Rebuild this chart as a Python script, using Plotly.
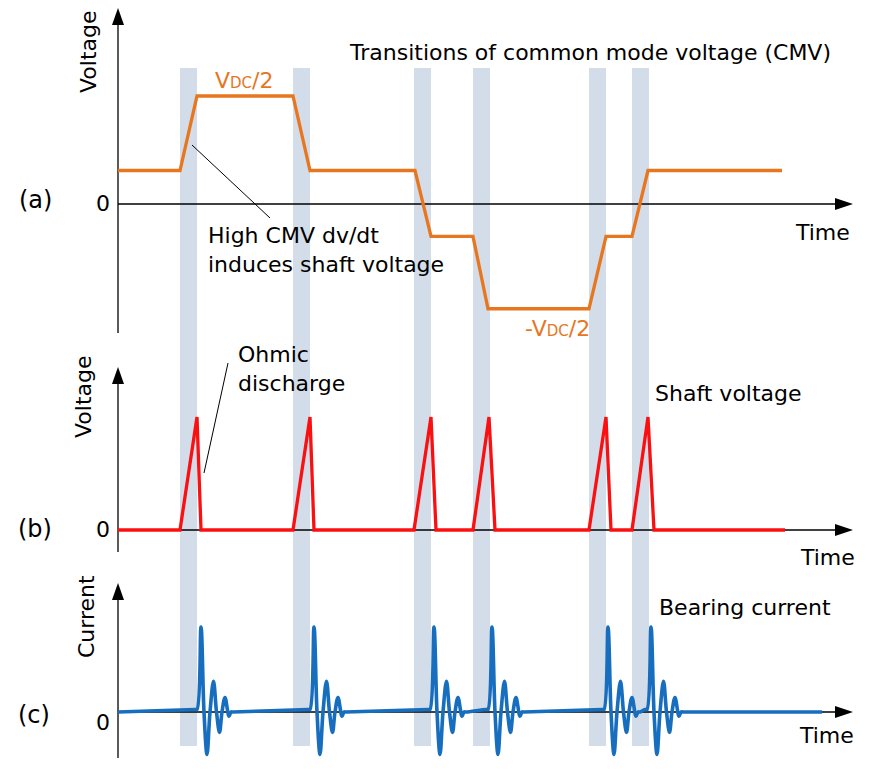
import plotly.graph_objects as go

W, H = 871, 778
OFF = 8  # default page margin around the plot div
FW, FH = W - OFF, H - OFF
FONT = "DejaVu Sans"

# shaded switching transitions (time in arbitrary units)
band_start = [62, 175, 296, 355, 471, 514]
band_end = [79, 192, 313, 372, 488, 531]

# (a) common mode voltage, in units of Vdc
cmv_t = [0, 62, 79, 175, 192, 297, 313, 355, 370, 471, 488, 514, 530, 664]
cmv_v = [0.155, 0.155, 0.5, 0.5, 0.155, 0.155, -0.15, -0.15,
         -0.485, -0.485, -0.15, -0.15, 0.155, 0.155]

# (b) shaft voltage spikes (normalised)
spike_start = [62, 175, 296, 355, 471, 514]
spike_peak = [79, 192, 313, 371, 488, 530]
spike_end = [83, 196, 318, 377, 493, 536]
shaft_stop = 667

burst_start = [79, 192, 312, 370, 486, 529]
ring_dt = [-2, 0, 4, 7, 10, 13, 16.5, 19.5, 22.5, 25, 28, 32, 34, 36]
ring_i = [0.03, 0.03, 1.0, 0, -0.5, 0, 0.36, 0, -0.24, 0, 0.17, -0.05, 0, 0]
current_stop = 704

shaft_t, shaft_v = [0], [0]
for s, p, e in zip(spike_start, spike_peak, spike_end):
    shaft_t += [s, p, e]
    shaft_v += [0, 1, 0]
shaft_t.append(shaft_stop)
shaft_v.append(0)

cur_t, cur_i = [0], [0.0]
for b in burst_start:
    cur_t += [b + d for d in ring_dt]
    cur_i += ring_i
cur_t.append(current_stop)
cur_i.append(0.0)

# panel geometry in page pixels: top, bottom, zero line, px per unit
panels = {
    "y": (OFF, 345, 204, 216),
    "y2": (345, 565, 530, 113),
    "y3": (565, 778, 712, 85),
}


def yval(ax, y):
    top, bot, zero, k = panels[ax]
    return (zero - y) / k


def px(x):
    return (x - OFF) / FW


def py(y):
    return 1 - (y - OFF) / FH


fig = go.Figure()
fig.add_trace(go.Scatter(x=cmv_t, y=cmv_v, yaxis="y", mode="lines",
                         line=dict(color="#E8761E", width=3.3)))
fig.add_trace(go.Scatter(x=shaft_t, y=shaft_v, yaxis="y2", mode="lines",
                         line=dict(color="#FA1010", width=3.3)))
fig.add_trace(go.Scatter(x=cur_t, y=cur_i, yaxis="y3", mode="lines",
                         line=dict(color="#176EBE", width=3.6, shape="spline", smoothing=1)))

shapes = []
for s, e in zip(band_start, band_end):
    shapes.append(dict(type="rect", xref="x", yref="paper", x0=s, x1=e,
                       y0=py(746), y1=py(68), fillcolor="#D3DDE9",
                       line=dict(width=0), layer="below"))

x_tip = 735
for ax, (v_bot, v_tip) in {"y": (333, 8), "y2": (552, 367), "y3": (758, 583)}.items():
    shapes.append(dict(type="line", xref="x", yref=ax, x0=0, x1=0,
                       y0=yval(ax, v_bot), y1=yval(ax, v_tip + 10),
                       line=dict(color="black", width=1.3), layer="below"))
    shapes.append(dict(type="line", xref="x", yref=ax, x0=0, x1=x_tip - 10,
                       y0=0, y1=0, line=dict(color="black", width=1.3), layer="below"))
    shapes.append(dict(type="path", xref="x", yref=ax, xsizemode="pixel", ysizemode="pixel",
                       xanchor=0, yanchor=yval(ax, v_tip), path="M0,0 L-6,-17 L6,-17 Z",
                       fillcolor="black", line=dict(width=0), layer="below"))
    shapes.append(dict(type="path", xref="x", yref=ax, xsizemode="pixel", ysizemode="pixel",
                       xanchor=x_tip, yanchor=0, path="M0,0 L-18,6 L-18,-6 Z",
                       fillcolor="black", line=dict(width=0), layer="below"))

# pointer lines for the callouts
for (x0, y0, x1, y1) in [(192, 145, 270, 218), (204, 473, 228, 363)]:
    shapes.append(dict(type="line", xref="paper", yref="paper",
                       x0=px(x0), y0=py(y0), x1=px(x1), y1=py(y1),
                       line=dict(color="black", width=1)))

annotations = []


def label(text, x, y, xanchor="center", angle=0, color="black", size=22):
    annotations.append(dict(text=text, x=px(x), y=py(y), xref="paper", yref="paper",
                            xanchor=xanchor, yanchor="middle", showarrow=False,
                            textangle=angle, align="left",
                            font=dict(family=FONT, size=size, color=color)))


label("(a)", 35, 200, size=24)
label("(b)", 35, 529, size=24)
label("(c)", 34, 715, size=24)
label("0", 103, 203)
label("0", 103, 529)
label("0", 103, 722)
label("Voltage", 88, 52, angle=-90)
label("Voltage", 83, 397, angle=-90)
label("Current", 86, 617, angle=-90)
label("Time", 793, 232, xanchor="left")
label("Time", 798, 557, xanchor="left")
label("Time", 797, 735, xanchor="left")
label("Transitions of common mode voltage (CMV)", 590, 52)
label('V<span style="font-size:15px">DC</span>/2', 244, 80, color="#E8761E")
label('-V<span style="font-size:15px">DC</span>/2', 557, 328, color="#E8761E")
label("High CMV dv/dt<br>induces shaft voltage", 206, 250, xanchor="left")
label("Ohmic<br>discharge", 236, 369, xanchor="left")
label("Shaft voltage", 653, 393, xanchor="left")
label("Bearing current", 657, 607, xanchor="left")

layout_axes = {}
for ax, (top, bot, zero, k) in panels.items():
    name = "yaxis" if ax == "y" else "yaxis" + ax[1:]
    layout_axes[name] = dict(domain=[max(0, py(bot)), min(1, py(top))],
                             range=[(zero - bot) / k, (zero - top) / k],
                             visible=False, fixedrange=True)

fig.update_layout(
    width=FW, height=FH,
    margin=dict(l=0, r=0, t=0, b=0),
    paper_bgcolor="white", plot_bgcolor="white",
    showlegend=False,
    xaxis=dict(range=[OFF - 118, W - 118], visible=False, fixedrange=True),
    shapes=shapes,
    annotations=annotations,
    **layout_axes,
)

fig.write_html("out.html", config={"displayModeBar": False})
